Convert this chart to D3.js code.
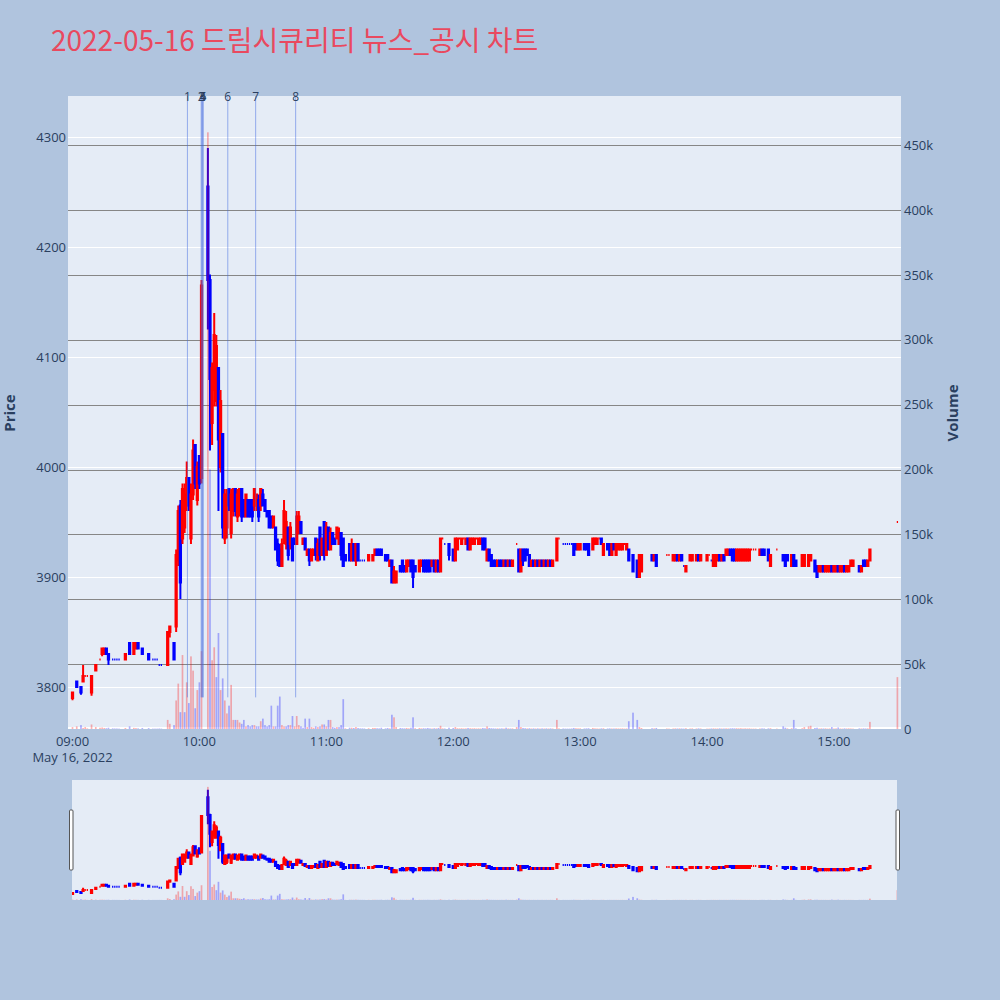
<!DOCTYPE html>
<html><head><meta charset="utf-8">
<script src="https://cdn.jsdelivr.net/npm/d3@7"></script>
<style>body{margin:0;background:#b0c4de;}svg{display:block;font-family:"Open Sans",sans-serif;}</style>
</head><body><svg id="c" width="1000" height="1000"></svg>
<script>
// ---- data (minutes after 09:00 session open) ----
const minutesFromOpen = [0,2,4,5,6,7,9,11,13,14,
15,16,17,19,20,21,22,25,27,29,
30,31,33,36,38,39,40,41,42,45,
46,48,49,50,51,52,53,54,55,56,
57,58,59,60,61,64,65,66,67,68,
69,70,71,72,73,74,75,76,77,78,
79,80,81,82,83,84,85,86,87,88,
89,90,91,92,93,94,95,96,97,98,
99,100,101,102,103,104,105,106,107,108,
109,110,111,112,113,114,115,116,117,118,
119,120,121,122,123,124,125,126,127,128,
129,131,132,133,134,135,136,137,138,140,
142,143,144,145,146,148,149,150,151,152,
153,155,156,157,158,159,160,161,162,164,
165,166,167,168,169,170,171,172,173,174,
175,176,178,180,181,182,183,184,185,186,
187,188,189,190,191,192,193,194,195,196,
197,198,199,200,201,202,203,204,205,206,
207,208,210,211,212,213,214,215,216,217,
218,219,220,221,222,223,224,225,226,227,
229,230,232,233,234,235,236,237,238,239,
240,242,243,244,246,247,248,249,250,251,
253,254,255,256,257,258,259,260,261,262,
263,265,267,268,269,274,275,276,281,282,
284,285,286,287,288,289,290,292,293,295,
296,297,300,301,302,303,304,305,306,307,
308,309,310,311,312,313,314,315,316,317,
318,319,320,321,322,323,325,326,327,329,
330,333,336,337,338,340,341,342,345,346,
348,349,351,352,353,354,355,356,357,358,
359,360,361,362,363,364,365,366,367,368,
369,372,373,374,375,376,377,390];

const opens = [3790,3805,3800,3805,3810,3810,3795,3815,3825,3830,
3830,3835,3830,3825,3825,3825,3825,3825,3840,3830,
3835,3840,3835,3830,3825,3825,3825,3820,3820,3820,
3850,3840,3855,3915,3965,3935,3945,3965,3990,3935,
3975,4020,3970,4010,3990,4255,4170,4040,4070,4060,
4090,4000,4030,3935,3945,3980,3940,3960,3980,3955,
3960,3980,3970,3955,3970,3970,3970,3965,3965,3970,
3965,3975,3970,3960,3960,3955,3945,3945,3930,3925,
3910,3935,3930,3945,3930,3935,3935,3930,3940,3950,
3930,3935,3920,3925,3915,3920,3935,3915,3945,3920,
3950,3920,3945,3925,3940,3935,3935,3930,3940,3935,
3920,3930,3915,3930,3915,3930,3915,3915,3915,3915,
3915,3920,3925,3925,3925,3920,3920,3910,3915,3895,
3895,3910,3915,3910,3905,3910,3915,3915,3910,3905,
3910,3915,3915,3915,3915,3910,3915,3905,3915,3905,
3935,3930,3930,3925,3915,3925,3935,3930,3935,3930,
3935,3925,3930,3930,3935,3930,3930,3935,3935,3915,
3925,3920,3915,3915,3910,3915,3915,3910,3915,3910,
3915,3910,3930,3925,3905,3925,3925,3925,3920,3910,
3915,3910,3915,3910,3915,3910,3915,3910,3915,3910,
3915,3935,3930,3930,3930,3930,3930,3930,3930,3925,
3925,3930,3930,3930,3925,3930,3930,3935,3935,3920,
3930,3930,3920,3930,3920,3925,3925,3925,3930,3925,
3925,3920,3915,3900,3905,3920,3915,3920,3920,3920,
3915,3915,3920,3915,3920,3910,3905,3915,3915,3915,
3920,3915,3915,3920,3915,3910,3910,3915,3920,3915,
3920,3920,3920,3925,3925,3925,3915,3915,3915,3915,
3915,3915,3915,3925,3925,3925,3920,3925,3925,3925,
3910,3925,3920,3920,3920,3910,3920,3915,3910,3910,
3910,3915,3915,3910,3905,3905,3910,3905,3905,3905,
3910,3905,3905,3910,3905,3905,3910,3905,3905,3910,
3910,3910,3905,3915,3915,3910,3915,3950];

const highs = [3795,3806,3800,3820,3810,3810,3810,3820,3825,3835,
3835,3835,3830,3825,3825,3825,3825,3830,3840,3840,
3840,3840,3835,3830,3825,3825,3825,3820,3820,3850,
3855,3840,3925,3965,3970,3985,3985,4005,3990,3985,
4025,4020,4005,4010,4170,4290,4175,4095,4140,4120,
4090,4070,4030,3980,3980,3980,3980,3980,3980,3980,
3980,3980,3970,3975,3970,3970,3970,3980,3975,3975,
3980,3980,3970,3960,3960,3955,3955,3945,3935,3930,
3935,3970,3960,3945,3950,3935,3935,3960,3960,3950,
3935,3935,3925,3925,3925,3925,3935,3935,3945,3935,
3950,3950,3945,3945,3940,3935,3945,3945,3940,3935,
3920,3930,3935,3930,3930,3930,3915,3915,3915,3920,
3920,3925,3925,3925,3925,3920,3920,3915,3915,3910,
3905,3910,3915,3910,3915,3915,3915,3915,3910,3915,
3915,3915,3915,3915,3915,3915,3915,3915,3915,3935,
3935,3930,3930,3925,3935,3935,3935,3935,3935,3935,
3935,3935,3935,3935,3935,3935,3935,3935,3935,3925,
3925,3920,3915,3915,3915,3915,3915,3915,3915,3915,
3915,3915,3930,3925,3925,3925,3925,3925,3920,3915,
3915,3915,3915,3915,3915,3915,3915,3915,3915,3915,
3935,3935,3930,3930,3930,3930,3930,3930,3930,3930,
3930,3930,3930,3930,3935,3935,3935,3935,3935,3930,
3930,3930,3930,3930,3930,3930,3930,3930,3930,3930,
3925,3920,3915,3920,3920,3920,3920,3920,3920,3920,
3920,3920,3920,3920,3920,3910,3910,3920,3920,3920,
3920,3920,3920,3920,3915,3920,3920,3920,3920,3920,
3920,3925,3925,3925,3925,3925,3925,3925,3925,3925,
3925,3925,3925,3925,3925,3925,3925,3925,3925,3925,
3920,3925,3920,3920,3920,3920,3920,3915,3920,3920,
3920,3920,3915,3910,3910,3910,3910,3910,3910,3910,
3910,3910,3910,3910,3910,3910,3910,3910,3910,3915,
3915,3910,3910,3915,3915,3915,3925,3950];

const lows = [3788,3800,3793,3805,3810,3810,3792,3815,3825,3828,
3830,3830,3820,3825,3825,3825,3825,3825,3830,3830,
3835,3835,3830,3825,3825,3825,3825,3820,3820,3820,
3845,3825,3850,3910,3880,3930,3940,3960,3960,3930,
3970,3980,3965,3980,3985,4125,4015,4020,4055,4055,
3960,3995,3935,3930,3935,3960,3935,3955,3955,3950,
3955,3950,3955,3955,3955,3955,3950,3960,3960,3950,
3960,3965,3960,3955,3945,3945,3945,3925,3910,3910,
3910,3930,3925,3915,3925,3915,3930,3930,3940,3940,
3930,3925,3920,3910,3915,3920,3915,3915,3915,3920,
3915,3920,3925,3925,3930,3930,3935,3930,3915,3910,
3915,3915,3915,3915,3910,3915,3915,3915,3915,3915,
3915,3920,3920,3920,3920,3915,3915,3910,3895,3895,
3895,3905,3905,3905,3905,3910,3905,3890,3905,3905,
3910,3905,3905,3905,3905,3910,3905,3905,3905,3905,
3935,3930,3915,3915,3915,3925,3935,3930,3935,3930,
3925,3925,3930,3930,3935,3930,3930,3925,3925,3915,
3915,3910,3910,3910,3910,3910,3910,3910,3910,3910,
3910,3910,3930,3905,3905,3910,3915,3920,3910,3910,
3910,3910,3910,3910,3910,3910,3910,3910,3910,3910,
3915,3935,3930,3930,3930,3930,3930,3920,3925,3925,
3925,3925,3925,3920,3925,3930,3930,3935,3930,3920,
3925,3920,3920,3925,3920,3925,3925,3925,3930,3925,
3915,3905,3900,3900,3905,3915,3915,3910,3920,3920,
3915,3915,3915,3915,3915,3910,3905,3915,3915,3915,
3915,3915,3915,3920,3915,3910,3910,3915,3915,3915,
3915,3920,3920,3920,3915,3915,3915,3915,3915,3915,
3915,3915,3915,3925,3925,3925,3920,3920,3920,3915,
3910,3925,3915,3910,3915,3910,3910,3910,3910,3910,
3910,3915,3905,3900,3905,3905,3905,3905,3905,3905,
3905,3905,3905,3905,3905,3905,3905,3905,3905,3910,
3910,3905,3905,3910,3910,3910,3915,3950];

const closes = [3795,3800,3795,3810,3810,3810,3810,3820,3825,3835,
3835,3830,3825,3825,3825,3825,3825,3830,3830,3840,
3840,3835,3830,3825,3825,3825,3825,3820,3820,3850,
3855,3825,3920,3960,3895,3980,3975,3990,3965,3975,
4015,3985,4000,3985,4165,4170,4080,4090,4120,4110,
4025,4060,3945,3975,3975,3965,3975,3980,3960,3975,
3980,3955,3955,3975,3955,3955,3955,3980,3975,3955,
3980,3965,3960,3955,3945,3945,3955,3925,3915,3910,
3930,3960,3950,3920,3945,3915,3930,3955,3955,3940,
3935,3925,3925,3915,3925,3925,3920,3930,3920,3935,
3920,3945,3925,3940,3930,3930,3945,3940,3920,3910,
3915,3915,3930,3915,3930,3915,3915,3915,3915,3920,
3920,3925,3920,3920,3920,3915,3915,3915,3895,3905,
3905,3905,3905,3905,3915,3915,3905,3900,3905,3915,
3915,3905,3905,3905,3905,3915,3905,3915,3905,3935,
3935,3930,3920,3915,3935,3935,3935,3935,3935,3935,
3925,3935,3935,3935,3935,3935,3935,3925,3925,3925,
3915,3910,3910,3910,3915,3910,3910,3915,3910,3915,
3910,3915,3930,3905,3925,3915,3915,3920,3910,3915,
3910,3915,3910,3915,3910,3915,3910,3915,3910,3915,
3935,3935,3930,3930,3930,3930,3930,3920,3925,3930,
3930,3925,3925,3920,3935,3935,3935,3935,3930,3930,
3925,3920,3930,3925,3930,3930,3930,3930,3930,3930,
3915,3905,3900,3920,3920,3915,3920,3910,3920,3920,
3920,3920,3915,3920,3915,3910,3910,3920,3920,3920,
3915,3920,3920,3920,3915,3920,3920,3920,3915,3920,
3915,3925,3925,3920,3915,3915,3925,3925,3925,3925,
3925,3925,3925,3925,3925,3925,3925,3920,3920,3915,
3920,3925,3915,3910,3915,3920,3910,3910,3920,3920,
3920,3920,3905,3900,3910,3910,3905,3910,3910,3910,
3905,3910,3910,3905,3910,3910,3905,3910,3910,3915,
3915,3905,3910,3910,3910,3915,3925,3950];

const volumes = [1500,2000,3000,800,1500,500,3500,1500,1000,1200,
800,600,1000,500,400,400,300,800,2000,900,
700,500,800,700,300,300,300,400,300,7000,
4000,3000,22000,35000,13000,57000,13000,36000,20000,56000,
45000,16000,30000,36000,60000,460000,200000,53000,63000,40000,
74000,30000,39000,22000,12000,18000,34000,7000,7000,7000,
5000,4000,7000,2000,3000,2000,3000,3000,2000,2000,
6000,8000,3000,2000,3000,18000,2000,2000,18000,25000,
3000,2000,2000,3000,3000,10000,2000,10000,3000,2000,
1000,8000,1500,8000,1500,1000,2000,1500,2000,3500,
3500,2000,7000,7000,1500,1000,1500,1500,3000,23000,
500,1000,1000,800,1500,800,500,500,400,600,
800,800,600,500,1000,500,800,500,11000,9000,
1500,800,600,500,800,500,1000,9000,600,800,
500,600,500,800,500,400,600,500,800,2500,
500,400,1000,800,1500,600,500,600,400,500,
800,600,500,600,400,500,400,800,600,2000,
800,600,500,400,500,400,500,400,1000,500,
400,500,1500,7000,1500,800,600,500,600,400,
500,400,500,400,500,400,500,400,500,400,
7000,500,400,300,300,300,400,800,600,500,
500,400,500,600,800,500,400,300,500,600,
400,500,400,400,500,400,400,500,300,400,
6000,12600,7000,1500,800,600,500,800,400,300,
400,500,400,500,400,300,600,400,500,400,
500,400,300,300,400,500,400,400,500,400,
400,500,400,500,600,500,600,500,600,400,
500,400,500,300,300,300,400,500,400,500,
600,300,2000,1000,500,600,7000,500,600,1500,
2000,2500,800,1000,400,500,400,500,300,400,
1500,400,500,1200,400,300,500,400,500,400,
300,500,400,500,400,500,5500,40000];

const priceTicks = [3800,3900,4000,4100,4200,4300];
const volumeTicks = [0,50000,100000,150000,200000,250000,300000,350000,400000,450000];
const volumeTickLabels = ["0","50k","100k","150k","200k","250k","300k","350k","400k","450k"];
const timeTicks = ["09:00","10:00","11:00","12:00","13:00","14:00","15:00"];
const newsLabels = ["1","2","3","4","5","6","7","8"];
const newsTimes = ["09:54:20","10:00:50","10:01:10","10:01:30","10:01:50","10:13:25","10:26:35","10:45:30"];
const titleText = "2022-05-16 드림시큐리티 뉴스_공시 차트";

// ---- layout ----
const L = 68, R = 901, T = 96, B = 729;
const SL = 72, SR = 897, ST = 780, SB = 900;
const INC = "#ff0000", DEC = "#0000ff";
const INK = "#2a3f5f";

const parseS = d3.timeParse("%H:%M:%S");
const parseM = d3.timeParse("%H:%M");
const open0 = parseS("09:00:00");
const toDate = m => d3.timeMinute.offset(open0, m);

const x = d3.scaleTime().domain([parseS("08:57:52"), parseS("15:31:42")]).range([L, R]);
const yP = d3.scaleLinear().domain([3761.8, 4337.3]).range([B, T]);
const yV = d3.scaleLinear().domain([0, 488000]).range([B, T]);
const yPs = d3.scaleLinear().domain(yP.domain()).range([SB, ST]);
const yVs = d3.scaleLinear().domain(yV.domain()).range([SB, ST]);

// build rows & plotly-like direction
const rows = [];
let inc = true, prevC = null;
minutesFromOpen.forEach((m, i) => {
  const o = opens[i], h = highs[i], l = lows[i], c = closes[i], v = volumes[i];
  if (c === o) { if (prevC !== null && c !== prevC) inc = c > prevC; } else inc = c > o;
  let vUp = inc;
  if (prevC !== null && c !== prevC) vUp = c > prevC;
  rows.push({t: toDate(m), o, h, l, c, v, inc, vUp});
  prevC = c;
});

const svg = d3.select("#c");
const defs = svg.append("defs");
defs.append("clipPath").attr("id","pc").append("rect").attr("x",L).attr("y",T).attr("width",R-L).attr("height",B-T);
defs.append("clipPath").attr("id","sc").append("rect").attr("x",SL).attr("y",ST).attr("width",SR-SL).attr("height",SB-ST);

// title
svg.append("text").attr("x",51).attr("y",51).attr("fill","#e9495f")
  .style("font-family","'Noto Sans CJK KR','Noto Sans',sans-serif").style("font-size","28px").text(titleText);

// plot bg
svg.append("rect").attr("x",L).attr("y",T).attr("width",R-L).attr("height",B-T).attr("fill","#e5ecf6");

// price grid (white)
svg.append("g").selectAll("line").data(priceTicks).join("line")
  .attr("x1",L).attr("x2",R).attr("y1",d=>Math.round(yP(d))+0.5).attr("y2",d=>Math.round(yP(d))+0.5)
  .attr("stroke","#ffffff").attr("stroke-width",1);
// volume grid (gray)
svg.append("g").selectAll("line").data(volumeTicks.slice(1)).join("line")
  .attr("x1",L).attr("x2",R).attr("y1",d=>Math.round(yV(d))+0.5).attr("y2",d=>Math.round(yV(d))+0.5)
  .attr("stroke","#868686").attr("stroke-width",1.2);
// zero line
svg.append("line").attr("x1",L).attr("x2",R).attr("y1",yV(0)-1).attr("y2",yV(0)-1)
  .attr("stroke","#ffffff").attr("stroke-width",2);

function candlePath(d, ys) {
  const cx = x(d.t), bd = 0.63;
  const yo = ys(d.o), yc = ys(d.c), yh = ys(d.h), yl = ys(d.l);
  const top = Math.min(yo, yc), bot = Math.max(yo, yc);
  return `M${cx-bd},${yo}H${cx+bd}V${yc}H${cx-bd}ZM${cx},${yh}V${top}M${cx},${bot}V${yl}`;
}
function drawCandles(g, ys) {
  g.selectAll("path").data(rows).join("path")
    .attr("d", d => candlePath(d, ys))
    .attr("stroke", d => d.inc ? INC : DEC).attr("stroke-width", 2)
    .attr("fill", d => d.inc ? INC : DEC).attr("fill-opacity", 0.5);
}
const barW = 0.8 * (x(toDate(1)) - x(toDate(0)));
function drawVolume(g, ys) {
  g.selectAll("rect").data(rows).join("rect")
    .attr("x", d => x(d.t) - barW/2).attr("width", barW)
    .attr("y", d => ys(d.v)).attr("height", d => ys(0) - ys(d.v))
    .attr("fill", d => d.vUp ? INC : DEC).attr("opacity", 0.3);
}

const gMain = svg.append("g").attr("clip-path","url(#pc)");
drawCandles(gMain.append("g"), yP);
drawVolume(gMain.append("g"), yV);

// news lines
const news = newsTimes.map((s,i)=>({t: parseS(s), label: newsLabels[i]}));
const gN = svg.append("g");
gN.selectAll("line").data(news).join("line")
  .attr("x1",d=>x(d.t)).attr("x2",d=>x(d.t)).attr("y1",T).attr("y2",B - 0.05*(B-T))
  .attr("stroke","rgb(65,105,225)").attr("stroke-opacity",0.5).attr("stroke-width",1);
gN.selectAll("text").data(news).join("text")
  .attr("x",d=>x(d.t)).attr("y",T+1).attr("dy","0.35em").attr("text-anchor","middle")
  .attr("fill",INK).style("font-size","12px").text(d=>d.label);

// axes labels
const gA = svg.append("g").style("font-size","13px").attr("fill",INK);
gA.selectAll(".pt").data(priceTicks).join("text").attr("class","pt")
  .attr("x",L-2).attr("y",d=>yP(d)).attr("dy","0.35em").attr("text-anchor","end").text(d=>d);
gA.selectAll(".vt").data(volumeTicks).join("text").attr("class","vt")
  .attr("x",R+3).attr("y",d=>yV(d)).attr("dy","0.35em").attr("text-anchor","start").text((d,i)=>volumeTickLabels[i]);
gA.selectAll(".xt").data(timeTicks).join("text").attr("class","xt")
  .attr("x",d=>{const p=parseM(d); return x(p);}).attr("y",746).attr("text-anchor","middle").text(d=>d);
gA.append("text").attr("x",x(parseM(timeTicks[0]))).attr("y",762).attr("text-anchor","middle").text("May 16, 2022");

svg.append("text").attr("transform","translate(15,413) rotate(-90)").attr("text-anchor","middle")
  .attr("fill",INK).style("font-size","15px").style("font-weight","bold").text("Price");
svg.append("text").attr("transform","translate(958,413) rotate(-90)").attr("text-anchor","middle")
  .attr("fill",INK).style("font-size","15px").style("font-weight","bold").text("Volume");

// range slider
svg.append("rect").attr("x",SL).attr("y",ST).attr("width",SR-SL).attr("height",SB-ST).attr("fill","#e5ecf6");
const gS = svg.append("g").attr("clip-path","url(#sc)");
drawCandles(gS.append("g"), yPs);
drawVolume(gS.append("g"), yVs);
[SL-2.5, SR-1].forEach(hx => {
  svg.append("rect").attr("x",hx).attr("y",ST+30).attr("width",3.5).attr("height",60).attr("rx",1)
    .attr("fill","#ffffff").attr("stroke","#555").attr("stroke-width",1);
});
</script></body></html>
